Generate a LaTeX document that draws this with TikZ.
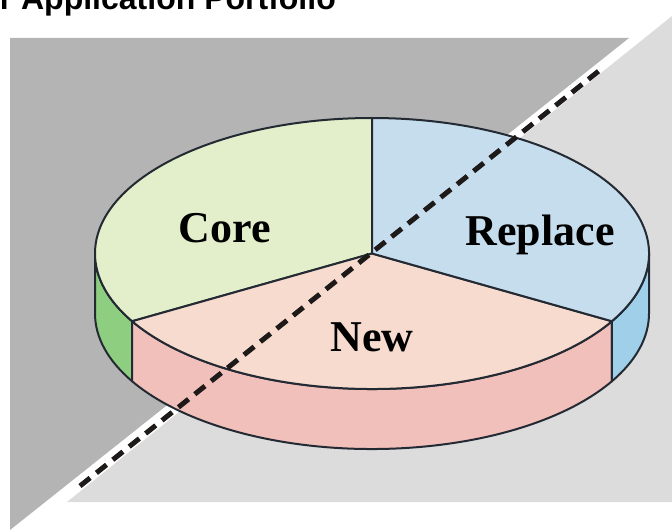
\documentclass[tikz,border=0pt]{standalone}
\usepackage{fontspec}
\setmainfont{Liberation Serif}
\newfontfamily\titlefont{Liberation Sans}
\definecolor{bgdark}{HTML}{B3B4B3}
\definecolor{bglight}{HTML}{DCDCDC}
\definecolor{coretop}{HTML}{E3EFCA}
\definecolor{coreside}{HTML}{8ECE80}
\definecolor{reptop}{HTML}{C6DDEE}
\definecolor{repside}{HTML}{A0CFE9}
\definecolor{newtop}{HTML}{F6DBCE}
\definecolor{newside}{HTML}{F2C0BA}
\definecolor{edge}{HTML}{232A33}
\definecolor{dashcol}{HTML}{1E1A1A}
\tikzset{
  pieedge/.style={draw=edge, line width=2pt, line join=round},
  slicelabel/.style={font=\fontsize{44}{50}\selectfont\bfseries, anchor=base, inner sep=0pt},
  divider/.style={draw=dashcol, line width=5pt, dash pattern=on 13pt off 8pt},
}
\begin{document}
\begin{tikzpicture}[x=1pt,y=1pt]
\path[use as bounding box] (0,0) rectangle (672,531);
% backgrounds
\fill[bgdark] (10,493) -- (629,493) -- (10,1) -- cycle;
\fill[bglight] (67,29) -- (672,29) -- (672,515) -- cycle;
% title
\node[font=\titlefont\fontsize{32}{38}\selectfont\bfseries, anchor=base east, inner sep=0pt] (title) at (336,521) {r Application Portfolio};
% pie
\coordinate (C) at (372,277.5);
% side faces
\path[pieedge, fill=coreside] ([shift={(180:277pt and 135.5pt)}]C) arc[start angle=180, end angle=210, x radius=277pt, y radius=135.5pt] -- ++(0,-60pt) arc[start angle=210, end angle=180, x radius=277pt, y radius=135.5pt] -- cycle;
\path[pieedge, fill=newside] ([shift={(210:277pt and 135.5pt)}]C) arc[start angle=210, end angle=330, x radius=277pt, y radius=135.5pt] -- ++(0,-60pt) arc[start angle=330, end angle=210, x radius=277pt, y radius=135.5pt] -- cycle;
\path[pieedge, fill=repside] ([shift={(330:277pt and 135.5pt)}]C) arc[start angle=330, end angle=360, x radius=277pt, y radius=135.5pt] -- ++(0,-60pt) arc[start angle=360, end angle=330, x radius=277pt, y radius=135.5pt] -- cycle;
% top faces
\path[pieedge, fill=coretop] (C) -- ([shift={(90:277pt and 135.5pt)}]C) arc[start angle=90, end angle=210, x radius=277pt, y radius=135.5pt] -- cycle;
\path[pieedge, fill=newtop] (C) -- ([shift={(210:277pt and 135.5pt)}]C) arc[start angle=210, end angle=330, x radius=277pt, y radius=135.5pt] -- cycle;
\path[pieedge, fill=reptop] (C) -- ([shift={(330:277pt and 135.5pt)}]C) arc[start angle=330, end angle=450, x radius=277pt, y radius=135.5pt] -- cycle;
% labels
\node[slicelabel] (core) at (225,288) {Core};
\node[slicelabel] (replace) at (540,286) {Replace};
\node[slicelabel] (new) at (372,180) {New};
% dashed divider
\coordinate (d1) at (80,45);
\coordinate (d2) at (600,461);
\draw[divider] (d1) -- (d2);
\end{tikzpicture}
\end{document}
